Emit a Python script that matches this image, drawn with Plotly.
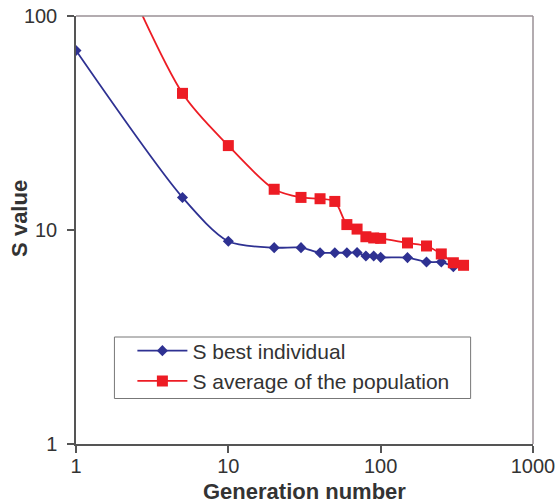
import plotly.graph_objects as go

# Data
best_gen = [1, 5, 10, 20, 30, 40, 50, 60, 70, 80, 90, 100, 150, 200, 250, 300]
best_s = [69, 14.2, 8.86, 8.27, 8.27, 7.83, 7.83, 7.83, 7.85, 7.56, 7.56, 7.45, 7.43, 7.08, 7.08, 6.74]

avg_gen = [1, 5, 10, 20, 30, 40, 50, 60, 70, 80, 90, 100, 150, 200, 250, 300, 350]
avg_s = [500, 43.5, 24.8, 15.5, 14.2, 14.0, 13.6, 10.6, 10.1, 9.3, 9.18, 9.14, 8.7, 8.42, 7.73, 7.03, 6.84]

x_ticks = [1, 10, 100, 1000]
y_ticks = [1, 10, 100]

BLUE = "#2E3192"
RED = "#ED1C24"
TXT = "#333333"
FONT = "Liberation Sans, Arial, sans-serif"

fig = go.Figure()
fig.add_trace(go.Scatter(
    x=best_gen, y=best_s, name="S best individual",
    mode="lines+markers",
    line=dict(color=BLUE, width=1.8, shape="spline", smoothing=0.8),
    marker=dict(symbol="diamond", size=8.5, color=BLUE),
))
fig.add_trace(go.Scatter(
    x=avg_gen, y=avg_s, name="S average of the population",
    mode="lines+markers",
    line=dict(color=RED, width=1.8, shape="spline", smoothing=0.8),
    marker=dict(symbol="square", size=11, color=RED),
))

axis_common = dict(
    type="log", showgrid=False, zeroline=False, automargin=False,
    showline=True, linecolor="#555555", linewidth=1.5,
    ticks="outside", ticklen=7, tickcolor="#555555", tickwidth=1.5,
    tickfont=dict(family=FONT, size=20, color=TXT),
    ticklabeloverflow="allow",
)

fig.update_layout(
    width=559, height=504,
    margin=dict(l=75.5, r=25.5, t=16, b=60),
    paper_bgcolor="white", plot_bgcolor="white",
    font=dict(family=FONT, color=TXT),
    xaxis=dict(
        **axis_common, range=[0, 3], tickvals=x_ticks,
        ticktext=[str(v) for v in x_ticks], ticklabelstandoff=-4,
    ),
    yaxis=dict(
        **axis_common, range=[0, 2], tickvals=y_ticks,
        ticktext=[str(v) for v in y_ticks], ticklabelstandoff=6,
    ),
    legend=dict(
        x=0.1234, y=0.2652, xanchor="left", yanchor="top",
        borderwidth=0, bgcolor="rgba(0,0,0,0)",
        font=dict(family=FONT, size=21, color=TXT),
        itemwidth=50, tracegroupgap=0,
    ),
    showlegend=True,
    annotations=[
        dict(text="Generation number", xref="paper", yref="paper",
             x=0.5, y=-0.112, xanchor="center", yanchor="middle", showarrow=False,
             font=dict(family=FONT, size=22, color=TXT, weight="bold")),
        dict(text="S value", xref="paper", yref="paper", textangle=-90,
             x=-0.125, y=0.528, xanchor="center", yanchor="middle", showarrow=False,
             font=dict(family=FONT, size=22, color=TXT, weight="bold")),
    ],
    shapes=[
        dict(type="line", xref="x domain", yref="y domain", x0=0, x1=1, y0=1, y1=1,
             line=dict(color="#9A9096", width=1.5)),
        dict(type="line", xref="x domain", yref="y domain", x0=1, x1=1, y0=0, y1=1,
             line=dict(color="#9A9096", width=1.5)),
        # legend frame
        dict(type="rect", xref="paper", yref="paper", x0=0.0841, x1=0.8635,
             y0=0.1063, y1=0.25, line=dict(color="#777777", width=1),
             fillcolor="rgba(0,0,0,0)", layer="below"),
    ],
)

fig.write_html("out.html", config={"displayModeBar": False},
               post_script="document.body.style.margin='0';")
